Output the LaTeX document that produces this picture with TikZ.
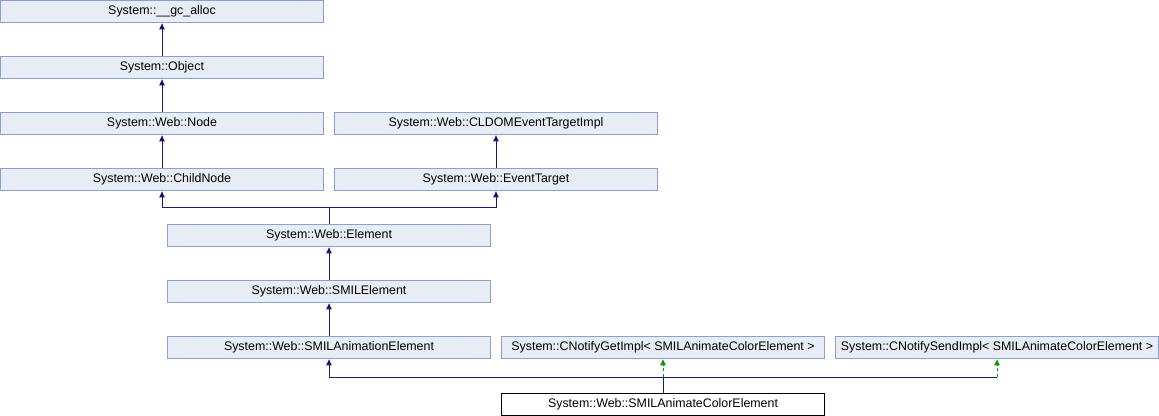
\documentclass[tikz,border=0pt]{standalone}
\usepackage{fontspec}
\setmainfont{Liberation Sans}
\usepackage{xcolor}
\usetikzlibrary{arrows.meta, positioning, calc}
\definecolor{boxfill}{HTML}{E8ECF4}
\definecolor{boxline}{HTML}{8CA0CF}
\definecolor{edgeblue}{HTML}{191970}
\definecolor{edgegreen}{HTML}{009900}

\begin{document}
\begin{tikzpicture}[x=0.75pt, y=-0.75pt,
    cls/.style={draw=boxline, fill=boxfill, line width=0.75pt, minimum width=242pt, minimum height=17pt, inner sep=0pt, font=\fontsize{9.3}{11}\selectfont},
    leaf/.style={cls, draw=black, fill=white},
    inh/.style={draw=edgeblue, line width=0.75pt, -{Triangle[length=4.5pt, width=4pt]}},
    tpl/.style={draw=edgegreen, line width=0.75pt, dashed, dash pattern=on 2.2pt off 2.2pt, -{Triangle[length=4.5pt, width=4pt]}}]
    \useasboundingbox (0,0) rectangle (1159,416);
    \node[cls] (gc) at (162,11.5) {System::\_\_gc\_alloc};
    \node[cls] (obj) at (162,67.5) {System::Object};
    \node[cls] (nd) at (162,123.5) {System::Web::Node};
    \node[cls] (cldom) at (496,123.5) {System::Web::CLDOMEventTargetImpl};
    \node[cls] (child) at (162,179.5) {System::Web::ChildNode};
    \node[cls] (evt) at (496,179.5) {System::Web::EventTarget};
    \node[cls] (elem) at (329,235.5) {System::Web::Element};
    \node[cls] (smil) at (329,291.5) {System::Web::SMILElement};
    \node[cls] (anim) at (329,347.5) {System::Web::SMILAnimationElement};
    \node[cls] (getimpl) at (663,347.5) {System::CNotifyGetImpl< SMILAnimateColorElement >};
    \node[cls] (sendimpl) at (997,347.5) {System::CNotifySendImpl< SMILAnimateColorElement >};
    \node[leaf] (color) at (663,404.5) {System::Web::SMILAnimateColorElement};
    % inheritance
    \draw[inh] (obj) -- (gc);
    \draw[inh] (nd) -- (obj);
    \draw[inh] (child) -- (nd);
    \draw[inh] (evt) -- (cldom);
    \coordinate (split) at (329,208);
    \draw[inh] (elem.north) -- (split) -| (child.south);
    \draw[inh] (elem.north) -- (split) -| (evt.south);
    \draw[inh] (smil) -- (elem);
    \draw[inh] (anim) -- (smil);
    \coordinate (bus) at (663,377);
    \coordinate (busend) at (997,377);
    \draw[inh] (color.north) -- (bus) -| (anim.south);
    \draw[edgeblue, line width=0.75pt] (bus) -- (busend);
    \draw[tpl] (bus) -- (getimpl.south);
    \draw[tpl] (busend) -- (sendimpl.south);
\end{tikzpicture}
\end{document}
